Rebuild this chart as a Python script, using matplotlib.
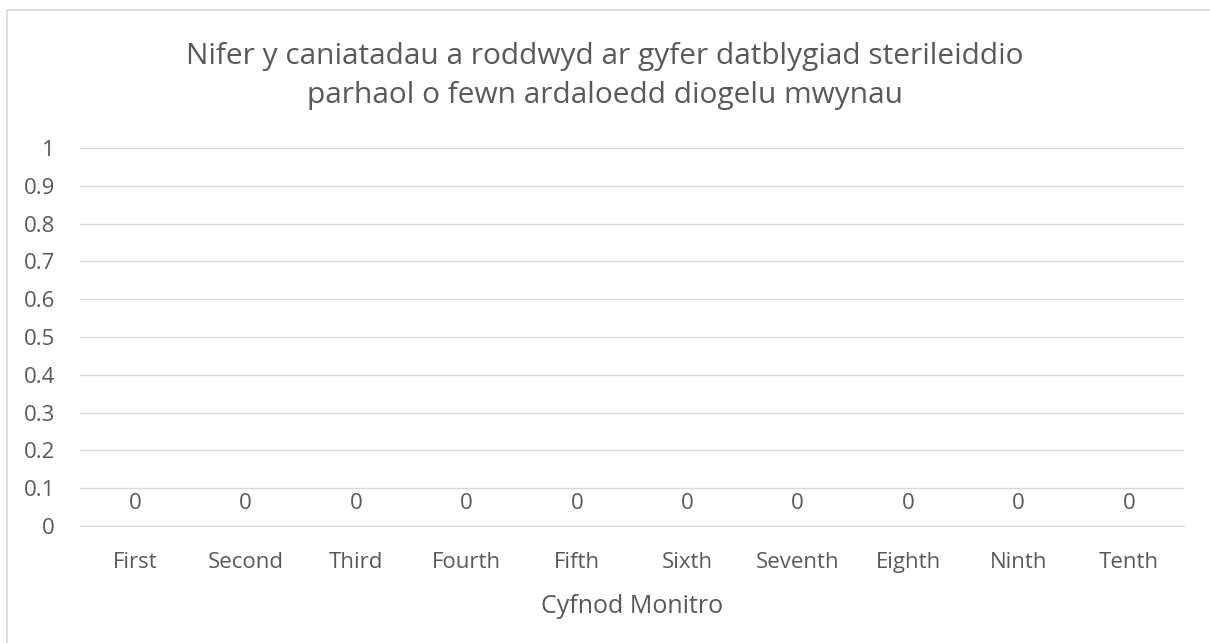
import matplotlib
matplotlib.use("Agg")
import matplotlib.pyplot as plt
from matplotlib.lines import Line2D

# chart data
periods = ["First", "Second", "Third", "Fourth", "Fifth", "Sixth",
           "Seventh", "Eighth", "Ninth", "Tenth"]
permits = [0, 0, 0, 0, 0, 0, 0, 0, 0, 0]
yticks = [0, 0.1, 0.2, 0.3, 0.4, 0.5, 0.6, 0.7, 0.8, 0.9, 1]
title_lines = ["Nifer y caniatadau a roddwyd ar gyfer datblygiad sterileiddio",
               "parhaol o fewn ardaloedd diogelu mwynau"]
xlabel = "Cyfnod Monitro"

txt = "#595959"
plt.rcParams["font.family"] = ["Open Sans", "DejaVu Sans"]

fig = plt.figure(figsize=(12.1, 6.43), dpi=100)
W, H = 1210, 643
top, bottom = 148, 526
ax = fig.add_axes([80 / W, 1 - bottom / H, (1184 - 80) / W, (bottom - top) / H])

x = range(len(periods))
bars = ax.bar(x, permits, width=0.6, color="#4472C4")
ax.bar_label(bars, labels=[str(v) for v in permits], padding=8.5,
             fontsize=16, color=txt)

ax.set_xlim(-0.5, len(periods) - 0.5)
ax.set_ylim(0, 1)
ax.set_yticks(yticks)
ax.set_yticklabels([("%g" % v) for v in yticks], fontsize=16, color=txt)
ax.set_xticks(list(x))
ax.set_xticklabels(periods, fontsize=16, color=txt)
ax.tick_params(length=0)
ax.tick_params(axis="x", pad=19)
ax.tick_params(axis="y", pad=18)
ax.grid(axis="y", color="#d9d9d9", linewidth=1)
ax.set_axisbelow(True)
for s in ["top", "right", "left"]:
    ax.spines[s].set_visible(False)
ax.spines["bottom"].set_color("#d9d9d9")

ax.set_xlabel(xlabel, fontsize=18, color=txt)
ax.xaxis.label.set_verticalalignment("baseline")
ax.xaxis.set_label_coords(0.5, -(613 - bottom) / (bottom - top))

for i, line in enumerate(title_lines):
    fig.text(605 / W, 1 - (64 + 39 * i) / H, line, ha="center", va="baseline",
             fontsize=21.5, color=txt)

# chart border (only top and left visible in the crop)
fig.add_artist(Line2D([7 / W, 7 / W], [0, 1 - 10 / H], color="#d9d9d9", lw=1.2))
fig.add_artist(Line2D([7 / W, 1], [1 - 10 / H, 1 - 10 / H], color="#d9d9d9", lw=1.2))

fig.savefig("out.png", dpi=100, facecolor="white")
